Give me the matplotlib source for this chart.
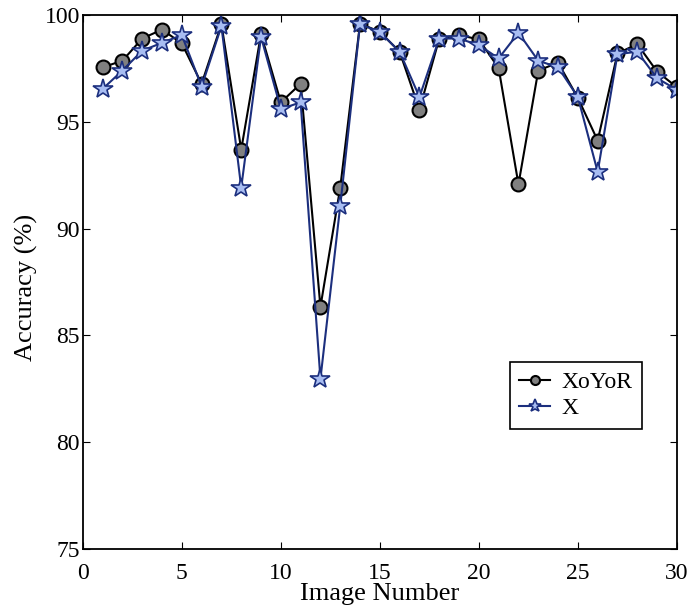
import numpy as np
import matplotlib
matplotlib.use("Agg")
import matplotlib.pyplot as plt

plt.rcParams['font.family'] = ['Liberation Serif', 'DejaVu Serif']
plt.rcParams['mathtext.fontset'] = 'stix'

# data
image_num = np.arange(1, 31)
xoyor = [97.56, 97.87, 98.91, 99.33, 98.68, 96.79, 99.58, 93.71, 99.12, 95.92,
         96.79, 86.34, 91.93, 99.61, 99.22, 98.29, 95.58, 98.91, 99.07, 98.87,
         97.52, 92.08, 97.41, 97.78, 96.13, 94.13, 98.21, 98.65, 97.36, 96.63]
x_only = [96.55, 97.41, 98.34, 98.71, 99.07, 96.66, 99.49, 91.93, 98.99, 95.61,
          95.92, 82.97, 91.07, 99.58, 99.22, 98.29, 96.17, 98.91, 98.91, 98.60,
          97.98, 99.18, 97.87, 97.56, 96.17, 92.66, 98.18, 98.29, 97.05, 96.51]

fig = plt.figure(figsize=(6.9, 6.1), dpi=100)
ax = fig.add_axes([0.120, 0.100, 0.861, 0.875])

ax.plot(image_num, xoyor, color='black', lw=1.5, marker='o', ms=10,
        mfc='#808080', mec='black', mew=1.5, label='XoYoR')
ax.plot(image_num, x_only, color='#1c2f7e', lw=1.5, marker='*', ms=15,
        mfc='#a8bdf2', mec='#1c2f7e', mew=1.2, label='X')

ax.set_xlim(0, 30)
ax.set_ylim(75, 100)
ax.set_xticks(np.arange(0, 31, 5))
ax.set_yticks(np.arange(75, 101, 5))
ax.tick_params(direction='in', top=True, right=True, labelsize=17, length=5, pad=2)
ax.tick_params(axis='x', pad=10)
for s in ax.spines.values():
    s.set_linewidth(1.3)

ax.set_xlabel('Image Number', fontsize=19)
ax.set_ylabel('Accuracy (%)', fontsize=19)
ax.xaxis.set_label_coords(0.5, -0.063)
ax.yaxis.set_label_coords(-0.076, 0.49)

leg = ax.legend(loc='upper left', bbox_to_anchor=(0.719, 0.350), fontsize=17,
                fancybox=False, framealpha=1, edgecolor='black',
                handlelength=1.3, handletextpad=0.5, borderpad=0.4,
                labelspacing=0.2, markerscale=0.65, borderaxespad=0)
leg.get_frame().set_linewidth(1.2)

fig.savefig('out.png', dpi=100)
